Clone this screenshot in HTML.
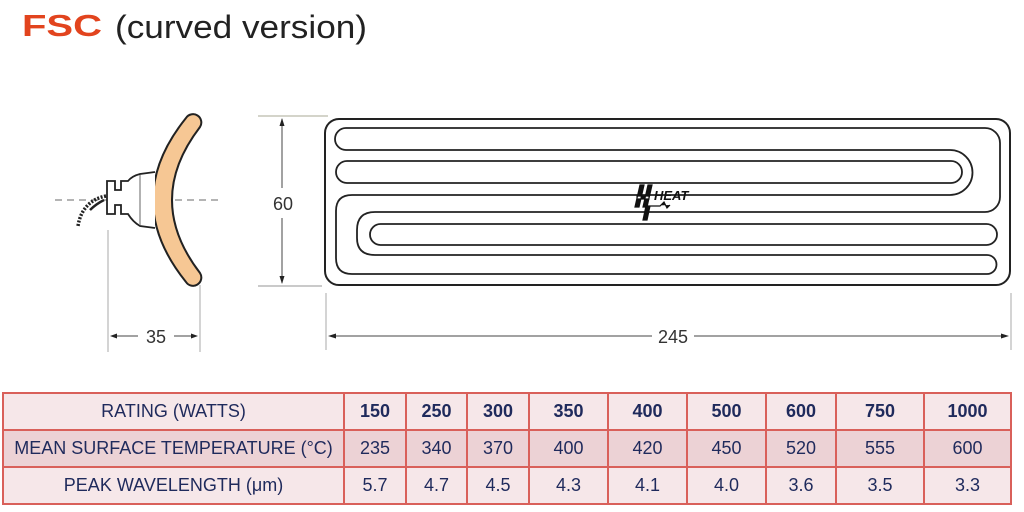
<!DOCTYPE html>
<html><head><meta charset="utf-8"><style>
html,body{margin:0;padding:0;background:#fff;}
body{width:1024px;height:512px;position:relative;overflow:hidden;font-family:"Liberation Sans",sans-serif;}
svg{position:absolute;left:0;top:0;}
table{position:absolute;left:2px;top:392px;border-collapse:collapse;font-family:"Liberation Sans",sans-serif;color:#1f2a5c;font-size:18px;}
td{border:2px solid #d9605a;text-align:center;padding:0;height:35px;}
tr.a td{background:#f6e7e9;}
tr.b td{background:#ecd2d5;}
tr.h td.n{font-weight:bold;}
</style></head><body>
<svg width="1024" height="512" viewBox="0 0 1024 512">
<text x="22" y="36" font-family="Liberation Sans" font-weight="bold" font-size="31" fill="#e2441e" textLength="80" lengthAdjust="spacingAndGlyphs">FSC</text>
<text x="115" y="38" font-family="Liberation Sans" font-size="32" fill="#222" textLength="252" lengthAdjust="spacingAndGlyphs">(curved version)</text>

<!-- side view -->
<line x1="55" y1="200" x2="222" y2="200" stroke="#888" stroke-width="1.2" stroke-dasharray="7,5"/>
<path d="M186 118 Q120 200 186 282 A8 8 0 0 0 200 273 Q144 200 200 127 A8 8 0 0 0 186 118 Z" fill="#f6c794" stroke="#222" stroke-width="2"/>
<path d="M155 172 L140 174 Q132 176 128 181 L121 181 L121 190 L115 190 L115 181 L107 181 L107 214 L115 214 L115 205 L121 205 L121 214 L128 214 Q133 222 140 226 L155 228" fill="#fff" stroke="#222" stroke-width="1.8"/>
<line x1="140" y1="175" x2="140" y2="225" stroke="#999" stroke-width="1.5"/>
<path d="M106 196 Q95 198 88 205 Q80 213 78 226" fill="none" stroke="#222" stroke-width="3.5" stroke-dasharray="2,1.5"/>
<path d="M104 200 Q96 204 90 210" fill="none" stroke="#222" stroke-width="2.5"/>
<!-- 35 dim -->
<line x1="108" y1="230" x2="108" y2="352" stroke="#aaa" stroke-width="1"/>
<line x1="200" y1="285" x2="200" y2="352" stroke="#aaa" stroke-width="1"/>
<line x1="112" y1="336" x2="138" y2="336" stroke="#444" stroke-width="1"/>
<line x1="174" y1="336" x2="196" y2="336" stroke="#444" stroke-width="1"/>
<path d="M110 336 l7 -2.5 v5z M198 336 l-7 -2.5 v5z" fill="#222"/>
<text x="156" y="343" font-size="18" text-anchor="middle" fill="#333">35</text>
<!-- 60 dim -->
<line x1="258" y1="116" x2="328" y2="116" stroke="#bba" stroke-width="1.2"/>
<line x1="258" y1="286" x2="322" y2="286" stroke="#aaa" stroke-width="1.2"/>
<line x1="282" y1="119" x2="282" y2="188" stroke="#444" stroke-width="1"/>
<line x1="282" y1="218" x2="282" y2="283" stroke="#444" stroke-width="1"/>
<path d="M282 118 l-2.5 8 h5z M282 284 l-2.5 -8 h5z" fill="#222"/>
<text x="283" y="210" font-size="18" text-anchor="middle" fill="#333">60</text>
<!-- 245 dim -->
<line x1="326" y1="293" x2="326" y2="350" stroke="#aaa" stroke-width="1"/>
<line x1="1011" y1="293" x2="1011" y2="350" stroke="#aaa" stroke-width="1"/>
<line x1="330" y1="336" x2="652" y2="336" stroke="#444" stroke-width="1"/>
<line x1="694" y1="336" x2="1007" y2="336" stroke="#444" stroke-width="1"/>
<path d="M328 336 l8 -2.5 v5z M1009 336 l-8 -2.5 v5z" fill="#222"/>
<text x="673" y="343" font-size="18" text-anchor="middle" fill="#333">245</text>
<!-- plate -->
<rect x="325" y="119" width="685" height="166" rx="14" fill="none" stroke="#222" stroke-width="2"/>
<path d="M346 128 H985 A15 15 0 0 1 1000 143 V197 A15 15 0 0 1 985 212 H375 Q357 212 357 230 V238 Q357 255 375 255 H987 A9.5 9.5 0 0 1 987 274 H352 Q336 274 336 258 V211 Q336 195 352 195 H950 A22.5 22.5 0 0 0 950 150 H346 A11 11 0 0 1 346 128 Z" fill="none" stroke="#222" stroke-width="1.8"/>
<rect x="336" y="161" width="626" height="22" rx="11" fill="none" stroke="#222" stroke-width="1.8"/>
<rect x="370" y="224" width="627" height="21" rx="10.5" fill="none" stroke="#222" stroke-width="1.8"/>
<!-- logo -->
<path d="M640 185 l-5 22 h4 l5 -22z M648 185 l-5 22 h4 l5 -22z M637 196 h12 v3 h-12z M646 206 l-3 14 h4 l3 -14z M646 206 h14 l4 -4 l3 6 l3 -3" fill="#111" stroke="#111" stroke-width="1.2"/>
<text x="654" y="200" font-size="13" font-weight="bold" font-style="italic" fill="#111">HEAT</text>
</svg>
<table>
<colgroup><col style="width:341px"><col style="width:62px"><col style="width:61px"><col style="width:62px"><col style="width:79px"><col style="width:79px"><col style="width:79px"><col style="width:70px"><col style="width:88px"><col style="width:87px"></colgroup>
<tr class="a h"><td>RATING (WATTS)</td><td class="n">150</td><td class="n">250</td><td class="n">300</td><td class="n">350</td><td class="n">400</td><td class="n">500</td><td class="n">600</td><td class="n">750</td><td class="n">1000</td></tr>
<tr class="b"><td>MEAN SURFACE TEMPERATURE (°C)</td><td>235</td><td>340</td><td>370</td><td>400</td><td>420</td><td>450</td><td>520</td><td>555</td><td>600</td></tr>
<tr class="a"><td>PEAK WAVELENGTH (μm)</td><td>5.7</td><td>4.7</td><td>4.5</td><td>4.3</td><td>4.1</td><td>4.0</td><td>3.6</td><td>3.5</td><td>3.3</td></tr>
</table>
</body></html>
